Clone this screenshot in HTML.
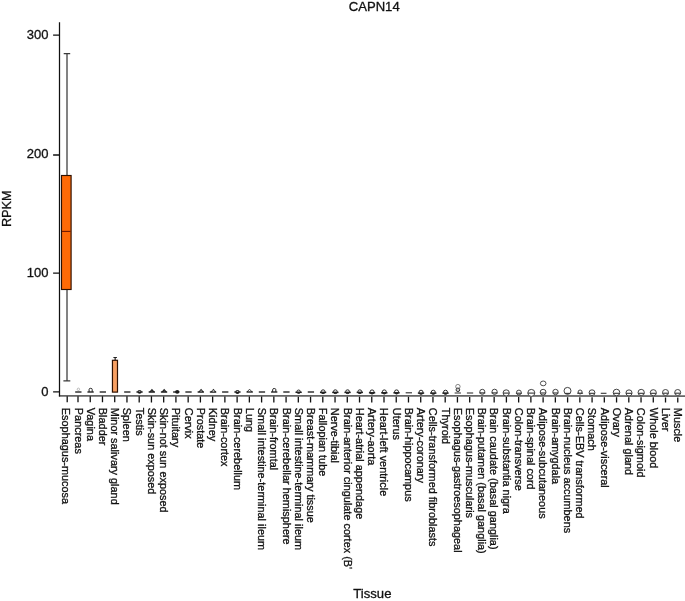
<!DOCTYPE html><html><head><meta charset="utf-8"><title>CAPN14</title><style>html,body{margin:0;padding:0;background:#fff}svg{display:block;will-change:transform}text{font-family:"Liberation Sans",sans-serif;fill:#111;stroke:#111;stroke-width:0.3px}</style></head><body>
<svg width="685" height="601" viewBox="0 0 685 601">
<rect width="685" height="601" fill="#fff"/>
<text transform="translate(374.2,11.3) scale(1.06,1)" font-size="12.35" text-anchor="middle">CAPN14</text>
<text x="372.4" y="598" font-size="13.1" text-anchor="middle">Tissue</text>
<text transform="translate(11.2,208.7) rotate(-90)" font-size="12.75" text-anchor="middle">RPKM</text>
<g fill="none">
<path d="M58.9 395.85L685 396.0" stroke="#666" stroke-width="1.75"/>
<path d="M59.5 22.2V396.55" stroke="#111" stroke-width="1.25"/>
<path d="M53.1 35.2H59.5M53.1 155.0H59.5M53.1 273.2H59.5M53.1 391.85H59.5" stroke="#111" stroke-width="1.3"/>
<path d="M67.20 396.20V402.30M78.00 396.22V402.31M90.24 396.25V402.33M102.48 396.27V402.35M114.72 396.30V402.36M126.96 396.32V402.38M139.20 396.34V402.39M151.44 396.37V402.41M163.68 396.39V402.42M175.92 396.42V402.44M188.16 396.44V402.45M200.40 396.46V402.47M212.64 396.49V402.48M224.88 396.51V402.50M237.12 396.54V402.51M249.36 396.56V402.53M261.60 396.58V402.54M273.84 396.61V402.56M286.08 396.63V402.57M298.32 396.66V402.59M310.56 396.68V402.60M322.80 396.70V402.60M335.04 396.73V402.60M347.28 396.75V402.60M359.52 396.78V402.60M371.76 396.80V402.60M384.00 396.82V402.60M396.24 396.85V402.60M408.48 396.87V402.60M420.72 396.90V402.60M432.96 396.92V402.60M445.20 396.94V402.60M457.44 396.97V402.60M469.68 396.99V402.60M481.92 397.02V402.60M494.16 397.04V402.60M506.40 397.06V402.60M518.64 397.09V402.60M530.88 397.11V402.60M543.12 397.14V402.60M555.36 397.16V402.60M567.60 397.18V402.60M579.84 397.21V402.60M592.08 397.23V402.60M604.32 397.26V402.60M616.56 397.28V402.60M628.80 397.30V402.60M641.04 397.33V402.60M653.28 397.35V402.60M665.52 397.38V402.60M677.76 397.40V402.60" stroke="#111" stroke-width="1.3"/>
</g>
<text x="48.5" y="39.35" font-size="13" text-anchor="end">300</text>
<text x="48.5" y="157.90" font-size="13" text-anchor="end">200</text>
<text x="48.5" y="276.70" font-size="13" text-anchor="end">100</text>
<text x="48.5" y="395.50" font-size="13" text-anchor="end">0</text>
<g font-size="10.9">
<text transform="translate(62.27,407.85) rotate(90)">Esophagus-mucosa</text>
<text transform="translate(74.50,407.85) rotate(90)">Pancreas</text>
<text transform="translate(86.73,407.85) rotate(90)">Vagina</text>
<text transform="translate(98.97,407.85) rotate(90)">Bladder</text>
<text transform="translate(111.20,407.85) rotate(90)">Minor salivary gland</text>
<text transform="translate(123.44,407.85) rotate(90)">Spleen</text>
<text transform="translate(135.68,407.85) rotate(90)">Testis</text>
<text transform="translate(147.91,407.85) rotate(90)">Skin-sun exposed</text>
<text transform="translate(160.14,407.85) rotate(90)">Skin-not sun exposed</text>
<text transform="translate(172.38,407.85) rotate(90)">Pituitary</text>
<text transform="translate(184.62,407.85) rotate(90)">Cervix</text>
<text transform="translate(196.85,407.85) rotate(90)">Prostate</text>
<text transform="translate(209.08,407.85) rotate(90)">Kidney</text>
<text transform="translate(221.32,407.85) rotate(90)">Brain-cortex</text>
<text transform="translate(233.56,407.85) rotate(90)">Brain-cerebellum</text>
<text transform="translate(245.79,407.85) rotate(90)">Lung</text>
<text transform="translate(258.02,407.85) rotate(90)">Small intestine-terminal ileum</text>
<text transform="translate(270.26,407.85) rotate(90)">Brain-fromtal</text>
<text transform="translate(282.50,407.85) rotate(90)">Brain-cerebellar hemisphere</text>
<text transform="translate(294.73,407.85) rotate(90)">Small intestine-terminal ileum</text>
<text transform="translate(306.96,407.85) rotate(90)">Breast-mammary tissue</text>
<text transform="translate(319.20,407.85) rotate(90)">Fallopian tube</text>
<text transform="translate(331.44,407.85) rotate(90)">Nerve-tibial</text>
<text transform="translate(343.67,407.85) rotate(90)">Brain-anterior cingulate cortex (B&#39;</text>
<text transform="translate(355.90,407.85) rotate(90)">Heart-atrial appendage</text>
<text transform="translate(368.14,407.85) rotate(90)">Artery-aorta</text>
<text transform="translate(380.38,407.85) rotate(90)">Heart-left ventricle</text>
<text transform="translate(392.61,407.85) rotate(90)">Uterus</text>
<text transform="translate(404.84,407.85) rotate(90)">Brain-hippocampus</text>
<text transform="translate(417.08,407.85) rotate(90)">Artery-coronary</text>
<text transform="translate(429.31,407.85) rotate(90)">Cells-transformed fibroblasts</text>
<text transform="translate(441.55,407.85) rotate(90)">Thyroid</text>
<text transform="translate(453.78,407.85) rotate(90)">Esophagus-gastroesophageal</text>
<text transform="translate(466.02,407.85) rotate(90)">Esophagus-muscularis</text>
<text transform="translate(478.25,407.85) rotate(90)">Brain-putamen (basal ganglia)</text>
<text transform="translate(490.49,407.85) rotate(90)">Brain caudate (basal ganglia)</text>
<text transform="translate(502.72,407.85) rotate(90)">Brain-substantia nigra</text>
<text transform="translate(514.96,407.85) rotate(90)">Colon-transverse</text>
<text transform="translate(527.19,407.85) rotate(90)">Brain-spinal cord</text>
<text transform="translate(539.43,407.85) rotate(90)">Adipose-subcutaneous</text>
<text transform="translate(551.66,407.85) rotate(90)">Brain-amygdala</text>
<text transform="translate(563.90,407.85) rotate(90)">Brain-nucleus accumbens</text>
<text transform="translate(576.13,407.85) rotate(90)">Cells-EBV transformed</text>
<text transform="translate(588.37,407.85) rotate(90)">Stomach</text>
<text transform="translate(600.61,407.85) rotate(90)">Adipose-visceral</text>
<text transform="translate(612.84,407.85) rotate(90)">Ovary</text>
<text transform="translate(625.07,407.85) rotate(90)">Adrenal gland</text>
<text transform="translate(637.31,407.85) rotate(90)">Colon-sigmoid</text>
<text transform="translate(649.54,407.85) rotate(90)">Whole blood</text>
<text transform="translate(661.78,407.85) rotate(90)">Liver</text>
<text transform="translate(674.01,407.85) rotate(90)">Muscle</text>
</g>
<path d="M67.0 53.6V175.5M67.0 289.5V380.9M63.7 53.6h6.5M63.4 380.9h6.9" fill="none" stroke="#3a3a3a" stroke-width="1.25"/>
<rect x="61.5" y="175.5" width="9.6" height="114" fill="#ff6a06" stroke="#2e1000" stroke-width="1.15"/>
<path d="M62 231.4h8.6" stroke="#701800" stroke-width="1.1"/>
<path d="M115.15 357.5V360.3M113.4 357.5h3.5" fill="none" stroke="#222" stroke-width="1.2"/>
<rect x="112.45" y="360.3" width="5.05" height="31.8" fill="#f8a062" stroke="#2e1000" stroke-width="1.2"/>
<circle cx="78.40" cy="389.30" r="1.2" stroke="#aaa" stroke-width="0.8" fill="#fff"/>
<path d="M75.20 392.0h6.30" stroke="#0c0c0c" stroke-width="1.25" fill="none"/>
<path d="M89.09 391.8V389.50Q89.09 388.30 90.64 388.30Q92.19 388.30 92.19 389.50V391.8" fill="#fff" stroke="#222" stroke-width="1"/>
<path d="M87.44 392.0h6.30" stroke="#0c0c0c" stroke-width="1.25" fill="none"/>
<path d="M99.68 392.0h6.30" stroke="#0c0c0c" stroke-width="1.25" fill="none"/>
<path d="M124.16 392.0h6.30" stroke="#0c0c0c" stroke-width="1.25" fill="none"/>
<path d="M136.40 392.0h6.30" stroke="#0c0c0c" stroke-width="1.25" fill="none"/>
<ellipse cx="139.55" cy="391.8" rx="2.1" ry="1.9" fill="#1c1c1c"/>
<ellipse cx="139.55" cy="391.2" rx="0.9" ry="0.55" fill="#bbb"/>
<path d="M148.64 392.0h6.30" stroke="#0c0c0c" stroke-width="1.25" fill="none"/>
<path d="M148.94 392.3L151.94 388.7L154.94 392.3Z" fill="#222"/>
<ellipse cx="151.94" cy="391" rx="0.5" ry="0.30" fill="#ddd"/>
<path d="M160.88 392.0h6.30" stroke="#0c0c0c" stroke-width="1.25" fill="none"/>
<path d="M161.18 392.3L164.18 388.7L167.18 392.3Z" fill="#222"/>
<ellipse cx="164.18" cy="391" rx="0.5" ry="0.30" fill="#ddd"/>
<path d="M173.12 392.0h6.30" stroke="#0c0c0c" stroke-width="1.25" fill="none"/>
<ellipse cx="177.22" cy="391.8" rx="2.1" ry="1.9" fill="#1c1c1c"/>
<path d="M185.36 392.0h6.30" stroke="#0c0c0c" stroke-width="1.25" fill="none"/>
<path d="M197.60 392.0h6.30" stroke="#0c0c0c" stroke-width="1.25" fill="none"/>
<path d="M198.10 392.3L201.10 388.7L204.10 392.3Z" fill="#222"/>
<ellipse cx="201.10" cy="391" rx="0.9" ry="0.54" fill="#ddd"/>
<path d="M209.84 392.0h6.30" stroke="#0c0c0c" stroke-width="1.25" fill="none"/>
<path d="M210.44 392.3L213.44 388.7L216.44 392.3Z" fill="#222"/>
<ellipse cx="213.44" cy="391" rx="1.2" ry="0.72" fill="#ddd"/>
<path d="M222.08 392.0h6.30" stroke="#0c0c0c" stroke-width="1.25" fill="none"/>
<path d="M234.32 392.0h6.30" stroke="#0c0c0c" stroke-width="1.25" fill="none"/>
<ellipse cx="237.47" cy="392" rx="2.1" ry="1.9" fill="#1c1c1c"/>
<ellipse cx="237.47" cy="391.4" rx="0.9" ry="0.55" fill="#bbb"/>
<path d="M246.96 392L249.56 389.2L252.16 392" fill="#fff" stroke="#333" stroke-width="0.9" stroke-linejoin="round"/>
<path d="M246.56 392.0h6.30" stroke="#0c0c0c" stroke-width="1.25" fill="none"/>
<path d="M258.80 392.0h6.30" stroke="#0c0c0c" stroke-width="1.25" fill="none"/>
<path d="M272.64 391.8V389.70Q272.64 388.50 274.24 388.50Q275.84 388.50 275.84 389.70V391.8" fill="#fff" stroke="#222" stroke-width="1"/>
<path d="M271.04 392.0h6.30" stroke="#0c0c0c" stroke-width="1.25" fill="none"/>
<path d="M283.28 392.0h6.30" stroke="#0c0c0c" stroke-width="1.25" fill="none"/>
<circle cx="298.62" cy="391.70" r="1.7" stroke="#2a2a2a" stroke-width="1.0" fill="#fff"/>
<path d="M295.47 392.3h6.3" stroke="#222" stroke-width="1.5" fill="none"/>
<path d="M296.92 392.3A1.7 1.27 0 0 0 300.32 392.3Z" fill="#222"/>
<path d="M307.76 392.0h6.30" stroke="#0c0c0c" stroke-width="1.25" fill="none"/>
<circle cx="323.10" cy="391.70" r="1.9" stroke="#2a2a2a" stroke-width="1.0" fill="#fff"/>
<path d="M319.95 392.4h6.3" stroke="#222" stroke-width="1.5" fill="none"/>
<path d="M321.20 392.4A1.9 1.42 0 0 0 325.00 392.4Z" fill="#222"/>
<circle cx="335.34" cy="391.70" r="1.9" stroke="#2a2a2a" stroke-width="1.0" fill="#fff"/>
<path d="M332.19 392.4h6.3" stroke="#222" stroke-width="1.5" fill="none"/>
<path d="M333.44 392.4A1.9 1.42 0 0 0 337.24 392.4Z" fill="#222"/>
<circle cx="347.58" cy="391.70" r="1.9" stroke="#2a2a2a" stroke-width="1.0" fill="#fff"/>
<path d="M344.43 392.4h6.3" stroke="#222" stroke-width="1.5" fill="none"/>
<path d="M345.68 392.4A1.9 1.42 0 0 0 349.48 392.4Z" fill="#222"/>
<circle cx="359.82" cy="391.70" r="1.9" stroke="#2a2a2a" stroke-width="1.0" fill="#fff"/>
<path d="M356.67 392.4h6.3" stroke="#222" stroke-width="1.5" fill="none"/>
<path d="M357.92 392.4A1.9 1.42 0 0 0 361.72 392.4Z" fill="#222"/>
<circle cx="372.06" cy="391.90" r="2.0" stroke="#2a2a2a" stroke-width="1.0" fill="#fff"/>
<path d="M368.91 392.8h6.3" stroke="#222" stroke-width="1.5" fill="none"/>
<path d="M370.06 392.8A2.0 1.50 0 0 0 374.06 392.8Z" fill="#222"/>
<circle cx="384.30" cy="391.90" r="2.0" stroke="#2a2a2a" stroke-width="1.0" fill="#fff"/>
<path d="M381.15 392.8h6.3" stroke="#222" stroke-width="1.5" fill="none"/>
<path d="M382.30 392.8A2.0 1.50 0 0 0 386.30 392.8Z" fill="#222"/>
<circle cx="396.54" cy="391.90" r="2.0" stroke="#2a2a2a" stroke-width="1.0" fill="#fff"/>
<path d="M393.39 392.8h6.3" stroke="#222" stroke-width="1.5" fill="none"/>
<path d="M394.54 392.8A2.0 1.50 0 0 0 398.54 392.8Z" fill="#222"/>
<path d="M405.68 392.8h6.30" stroke="#333" stroke-width="1.15" fill="none"/>
<circle cx="421.02" cy="392.20" r="2.0" stroke="#2a2a2a" stroke-width="1.0" fill="#fff"/>
<path d="M417.87 393.1h6.3" stroke="#222" stroke-width="1.5" fill="none"/>
<path d="M419.02 393.1A2.0 1.50 0 0 0 423.02 393.1Z" fill="#222"/>
<circle cx="433.26" cy="392.20" r="2.0" stroke="#2a2a2a" stroke-width="1.0" fill="#fff"/>
<path d="M430.11 393.1h6.3" stroke="#222" stroke-width="1.5" fill="none"/>
<path d="M431.26 393.1A2.0 1.50 0 0 0 435.26 393.1Z" fill="#222"/>
<circle cx="445.50" cy="392.20" r="2.0" stroke="#2a2a2a" stroke-width="1.0" fill="#fff"/>
<path d="M442.35 393.1h6.3" stroke="#222" stroke-width="1.5" fill="none"/>
<path d="M443.50 393.1A2.0 1.50 0 0 0 447.50 393.1Z" fill="#222"/>
<circle cx="457.90" cy="386.60" r="2.2" stroke="#666" stroke-width="0.8" fill="#fff"/>
<circle cx="457.90" cy="389.80" r="1.8" stroke="#333" stroke-width="1.0" fill="#ccc"/>
<path d="M454.64 393.0h6.30" stroke="#444" stroke-width="1.15" fill="none"/>
<path d="M466.88 393.0h6.30" stroke="#3c3c3c" stroke-width="1.15" fill="none"/>
<circle cx="482.30" cy="391.80" r="2.5" stroke="#3a3a3a" stroke-width="0.95" fill="#fff"/>
<path d="M479.30 392.9h6.00" stroke="#333" stroke-width="1.1" fill="none"/>
<circle cx="494.60" cy="391.80" r="2.6" stroke="#3a3a3a" stroke-width="0.95" fill="#fff"/>
<path d="M491.50 392.9h6.20" stroke="#333" stroke-width="1.1" fill="none"/>
<circle cx="506.20" cy="392.90" r="3.1" stroke="#3a3a3a" stroke-width="0.95" fill="#fff"/>
<path d="M503.10 393.1h6.20" stroke="#333" stroke-width="1.1" fill="none"/>
<circle cx="518.90" cy="392.50" r="2.4" stroke="#3a3a3a" stroke-width="0.95" fill="#fff"/>
<path d="M515.90 393.2h6.00" stroke="#333" stroke-width="1.1" fill="none"/>
<circle cx="531.30" cy="392.90" r="3.5" stroke="#3a3a3a" stroke-width="0.95" fill="#fff"/>
<path d="M527.80 393.1h7.00" stroke="#333" stroke-width="1.1" fill="none"/>
<ellipse cx="543.20" cy="383.40" rx="2.8" ry="2.4" stroke="#444" stroke-width="0.95" fill="#fff"/>
<circle cx="543.10" cy="392.20" r="2.9" stroke="#3a3a3a" stroke-width="0.95" fill="#fff"/>
<path d="M540.20 393.0h5.80" stroke="#333" stroke-width="1.1" fill="none"/>
<circle cx="555.50" cy="392.00" r="2.7" stroke="#3a3a3a" stroke-width="0.95" fill="#fff"/>
<path d="M552.80 393.0h5.40" stroke="#333" stroke-width="1.1" fill="none"/>
<circle cx="567.50" cy="390.90" r="3.5" stroke="#3a3a3a" stroke-width="0.95" fill="#fff"/>
<path d="M564.90 393.4h5.20" stroke="#333" stroke-width="1.1" fill="none"/>
<circle cx="580.10" cy="392.00" r="2.0" stroke="#3a3a3a" stroke-width="0.95" fill="#fff"/>
<path d="M577.15 393.2h5.90" stroke="#333" stroke-width="1.1" fill="none"/>
<circle cx="592.00" cy="392.70" r="2.9" stroke="#3a3a3a" stroke-width="0.95" fill="#fff"/>
<path d="M589.10 393.3h5.80" stroke="#333" stroke-width="1.1" fill="none"/>
<path d="M600.77 393.3h5.70" stroke="#333" stroke-width="1.1" fill="none"/>
<circle cx="616.50" cy="392.50" r="3.3" stroke="#3a3a3a" stroke-width="0.95" fill="#fff"/>
<path d="M613.20 393.3h6.60" stroke="#333" stroke-width="1.1" fill="none"/>
<circle cx="629.00" cy="392.90" r="3.05" stroke="#3a3a3a" stroke-width="0.95" fill="#fff"/>
<path d="M625.95 393.3h6.10" stroke="#333" stroke-width="1.1" fill="none"/>
<circle cx="641.20" cy="392.50" r="3.15" stroke="#3a3a3a" stroke-width="0.95" fill="#fff"/>
<path d="M638.05 393.3h6.30" stroke="#333" stroke-width="1.1" fill="none"/>
<circle cx="653.30" cy="392.70" r="3.05" stroke="#3a3a3a" stroke-width="0.95" fill="#fff"/>
<path d="M650.25 393.3h6.10" stroke="#333" stroke-width="1.1" fill="none"/>
<circle cx="665.50" cy="392.50" r="3.0" stroke="#3a3a3a" stroke-width="0.95" fill="#fff"/>
<path d="M662.50 393.2h6.00" stroke="#333" stroke-width="1.1" fill="none"/>
<circle cx="677.70" cy="392.50" r="3.0" stroke="#3a3a3a" stroke-width="0.95" fill="#fff"/>
<path d="M674.70 393.2h6.00" stroke="#333" stroke-width="1.1" fill="none"/>
</svg></body></html>
